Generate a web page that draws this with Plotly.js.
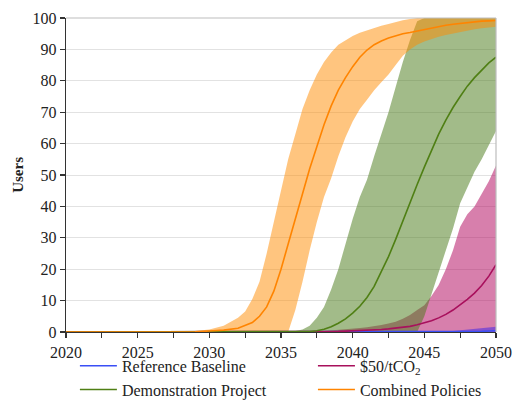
<!DOCTYPE html>
<html>
<head>
<meta charset="utf-8">
<script src="https://cdn.plot.ly/plotly-3.0.1.min.js"></script>
<style>
  html, body { margin: 0; padding: 0; background: #fff; }
  #chart { width: 513px; height: 401px; }
</style>
</head>
<body>
<div id="chart"></div>
<script>
// Shared time axis (years)
const years = [2020, 2025, 2028, 2029, 2030, 2031, 2032, 2032.5, 2033, 2033.5, 2034, 2034.5,
  2035, 2035.5, 2036, 2036.5, 2037, 2037.5, 2038, 2038.5, 2039, 2039.5, 2040, 2040.5,
  2041, 2041.5, 2042, 2042.5, 2043, 2043.5, 2044, 2044.5, 2045, 2045.5, 2046, 2046.5,
  2047, 2047.5, 2048, 2048.5, 2049, 2049.5, 2050];

// Reference Baseline
const baseMid   = [0,0,0,0,0,0,0,0,0,0,0,0, 0,0,0,0,0,0,0,0,0,0,0,0, 0,0,0,0,0,0,0,0,0,0,0,0, 0,0.05,0.1,0.15,0.2,0.3,0.4];
const baseHigh  = [0,0,0,0,0,0,0,0,0,0,0,0, 0,0,0,0,0,0,0,0,0,0,0,0, 0,0,0,0,0,0,0,0,0,0,0,0.1, 0.3,0.5,0.7,0.9,1.1,1.4,1.7];
const baseLow   = [0,0,0,0,0,0,0,0,0,0,0,0, 0,0,0,0,0,0,0,0,0,0,0,0, 0,0,0,0,0,0,0,0,0,0,0,0, 0,0,0,0,0,0,0];

// $50/tCO2
const co2Mid  = [0,0,0,0,0,0,0,0,0,0,0,0, 0,0,0,0.05,0.08,0.1,0.1,0.15,0.2,0.28,0.35,0.45,
  0.55,0.68,0.8,1.0,1.2,1.5,1.8,2.3,2.9,3.6,4.5,5.6, 7.0,8.6,10.4,12.4,14.8,17.8,21.4];
const co2High = [0,0,0,0,0,0,0,0,0,0,0,0, 0,0,0,0.05,0.1,0.2,0.3,0.45,0.6,0.8,1.0,1.25,
  1.5,1.8,2.2,2.7,3.3,4.2,5.4,7.0,8.5,11.5,15,20, 26,33.5,37.5,40,44,48,53];
const co2Low  = [0,0,0,0,0,0,0,0,0,0,0,0, 0,0,0,0,0,0,0,0,0,0,0,0, 0,0,0,0,0,0,0,0,0,0,0,0, 0,0,0,0,0,0,0];

// Demonstration Project
const demoMid  = [0,0,0,0,0,0,0,0,0,0,0,0, 0,0,0,0.05,0.15,0.4,0.9,1.7,2.8,4.2,6.0,8.2,
  11,14.5,19,24,29.5,35.5,41,47,52.5,58,63,67.5, 71.5,75,78.3,81,83.5,85.7,87.5];
const demoHigh = [0,0,0,0,0,0,0,0,0,0,0,0, 0,0,0.3,0.8,2,4.5,8,13.5,20,28,36,43,
  48.5,56,63,70,78,86,93,99,100,100,100,100, 100,100,100,100,100,100,100];
const demoLow  = [0,0,0,0,0,0,0,0,0,0,0,0, 0,0,0,0,0,0,0,0,0,0,0,0,
  0,0,0,0,0,0,0,0,5,12,19,26, 33,41,46,51,55,59.5,64];

// Combined Policies
const combMid  = [0,0,0,0.1,0.3,0.6,1.2,2,3,5,8,13, 20,28,36,44,52,59,66,72,77,81,84.5,87.5,
  89.8,91.5,92.7,93.6,94.4,95,95.4,95.9,96.4,96.9,97.3,97.7, 98,98.3,98.6,98.8,99,99.1,99.2];
const combHigh = [0,0,0.1,0.3,0.8,2,4.5,6.5,10.5,16,25,35, 45,55,63,71,77,82,86,89,91.5,93,94.3,95.3,
  96.1,96.8,97.5,98.1,98.8,99.3,99.7,100,100,100,100,100, 100,100,100,100,100,100,100];
const combLow  = [0,0,0,0,0,0,0,0,0,0,0,0, 0,0,7,16,26,35,43,49,56,62,67,71,
  74,77,79.5,82,85,88,90,91.5,92.5,93.3,94,94.6, 95.1,95.6,96,96.4,96.7,97,97.2];

// Axis ticks
const xTickVals = [2020, 2025, 2030, 2035, 2040, 2045, 2050];
const yTickVals = [0, 10, 20, 30, 40, 50, 60, 70, 80, 90, 100];

// Two legend columns: left holds Reference Baseline / Demonstration Project
const series = [
  { name: 'Reference Baseline', mid: baseMid, low: baseLow, high: baseHigh, line: '#3a4ff5', fill: 'rgba(70,40,230,0.55)', legend: 'legend' },
  { name: '$50/tCO<sub>2</sub>', mid: co2Mid, low: co2Low, high: co2High, line: '#a8105c', fill: 'rgba(175,0,90,0.5)', legend: 'legend2' },
  { name: 'Demonstration Project', mid: demoMid, low: demoLow, high: demoHigh, line: '#4f7f14', fill: 'rgba(70,120,20,0.5)', legend: 'legend' },
  { name: 'Combined Policies', mid: combMid, low: combLow, high: combHigh, line: '#ff8400', fill: 'rgba(255,140,0,0.5)', legend: 'legend2' }
];

// Bands: purple, green, orange, then the thin baseline band
const bandOrder = [1, 2, 3, 0];
const traces = [];
bandOrder.forEach(i => {
  const s = series[i];
  traces.push({ x: years, y: s.low, mode: 'lines', line: { width: 0 }, showlegend: false, hoverinfo: 'skip' });
  traces.push({ x: years, y: s.high, mode: 'lines', line: { width: 0 }, fill: 'tonexty',
    fillcolor: s.fill, showlegend: false, hoverinfo: 'skip' });
});
// Median lines (legend entries)
series.forEach(s => {
  traces.push({ x: years, y: s.mid, mode: 'lines', name: s.name, legend: s.legend,
    line: { color: s.line, width: 1.6 } });
});

const serif = "'Liberation Serif', 'Times New Roman', serif";
const legendStyle = {
  orientation: 'v', xref: 'container', yref: 'container',
  xanchor: 'left', yanchor: 'top',
  font: { family: serif, size: 16, color: '#222' },
  itemwidth: 37, bgcolor: 'rgba(0,0,0,0)', borderwidth: 0, traceorder: 'normal'
};

const layout = {
  width: 513, height: 401,
  margin: { l: 66, r: 17, t: 18, b: 69, autoexpand: false },
  paper_bgcolor: '#fff', plot_bgcolor: '#fff',
  font: { family: serif, size: 16, color: '#222' },
  xaxis: {
    range: [2020, 2050], tickvals: xTickVals,
    showline: true, linecolor: '#333', linewidth: 1.3,
    ticks: 'outside', ticklen: 5, tickcolor: '#333', tickwidth: 1.3,
    minor: { dtick: 2.5, tick0: 2020, ticks: 'outside', ticklen: 5, tickcolor: '#333', tickwidth: 1.3, showgrid: false },
    showgrid: false, zeroline: false, fixedrange: true,
    tickfont: { family: serif, size: 16, color: '#222' }
  },
  yaxis: {
    range: [0, 100], tickvals: yTickVals,
    showline: true, linecolor: '#333', linewidth: 1.3,
    ticks: 'outside', ticklen: 5, tickcolor: '#333', tickwidth: 1.3,
    showgrid: true, gridcolor: '#e2e2e2', gridwidth: 1, zeroline: false, fixedrange: true,
    tickfont: { family: serif, size: 16, color: '#222' }
  },
  // Vertical axis label
  annotations: [{
    text: '<b>Users</b>', xref: 'paper', yref: 'paper', x: -0.112, y: 0.5,
    xanchor: 'center', yanchor: 'middle', textangle: -90, showarrow: false,
    font: { family: serif, size: 15, color: '#222' }
  }],
  shapes: [
    { type: 'line', xref: 'paper', yref: 'paper', x0: 0, x1: 1, y0: 1, y1: 1, line: { color: '#bdbdbd', width: 1.2 } },
    { type: 'line', xref: 'paper', yref: 'paper', x0: 1, x1: 1, y0: 0, y1: 1, line: { color: '#bdbdbd', width: 1.2 } }
  ],
  showlegend: true,
  legend: Object.assign({}, legendStyle, { x: 0.146, y: 0.13 }),
  legend2: Object.assign({}, legendStyle, { x: 0.61, y: 0.13 })
};

Plotly.newPlot('chart', traces, layout, { staticPlot: true, displayModeBar: false });
</script>
</body>
</html>
